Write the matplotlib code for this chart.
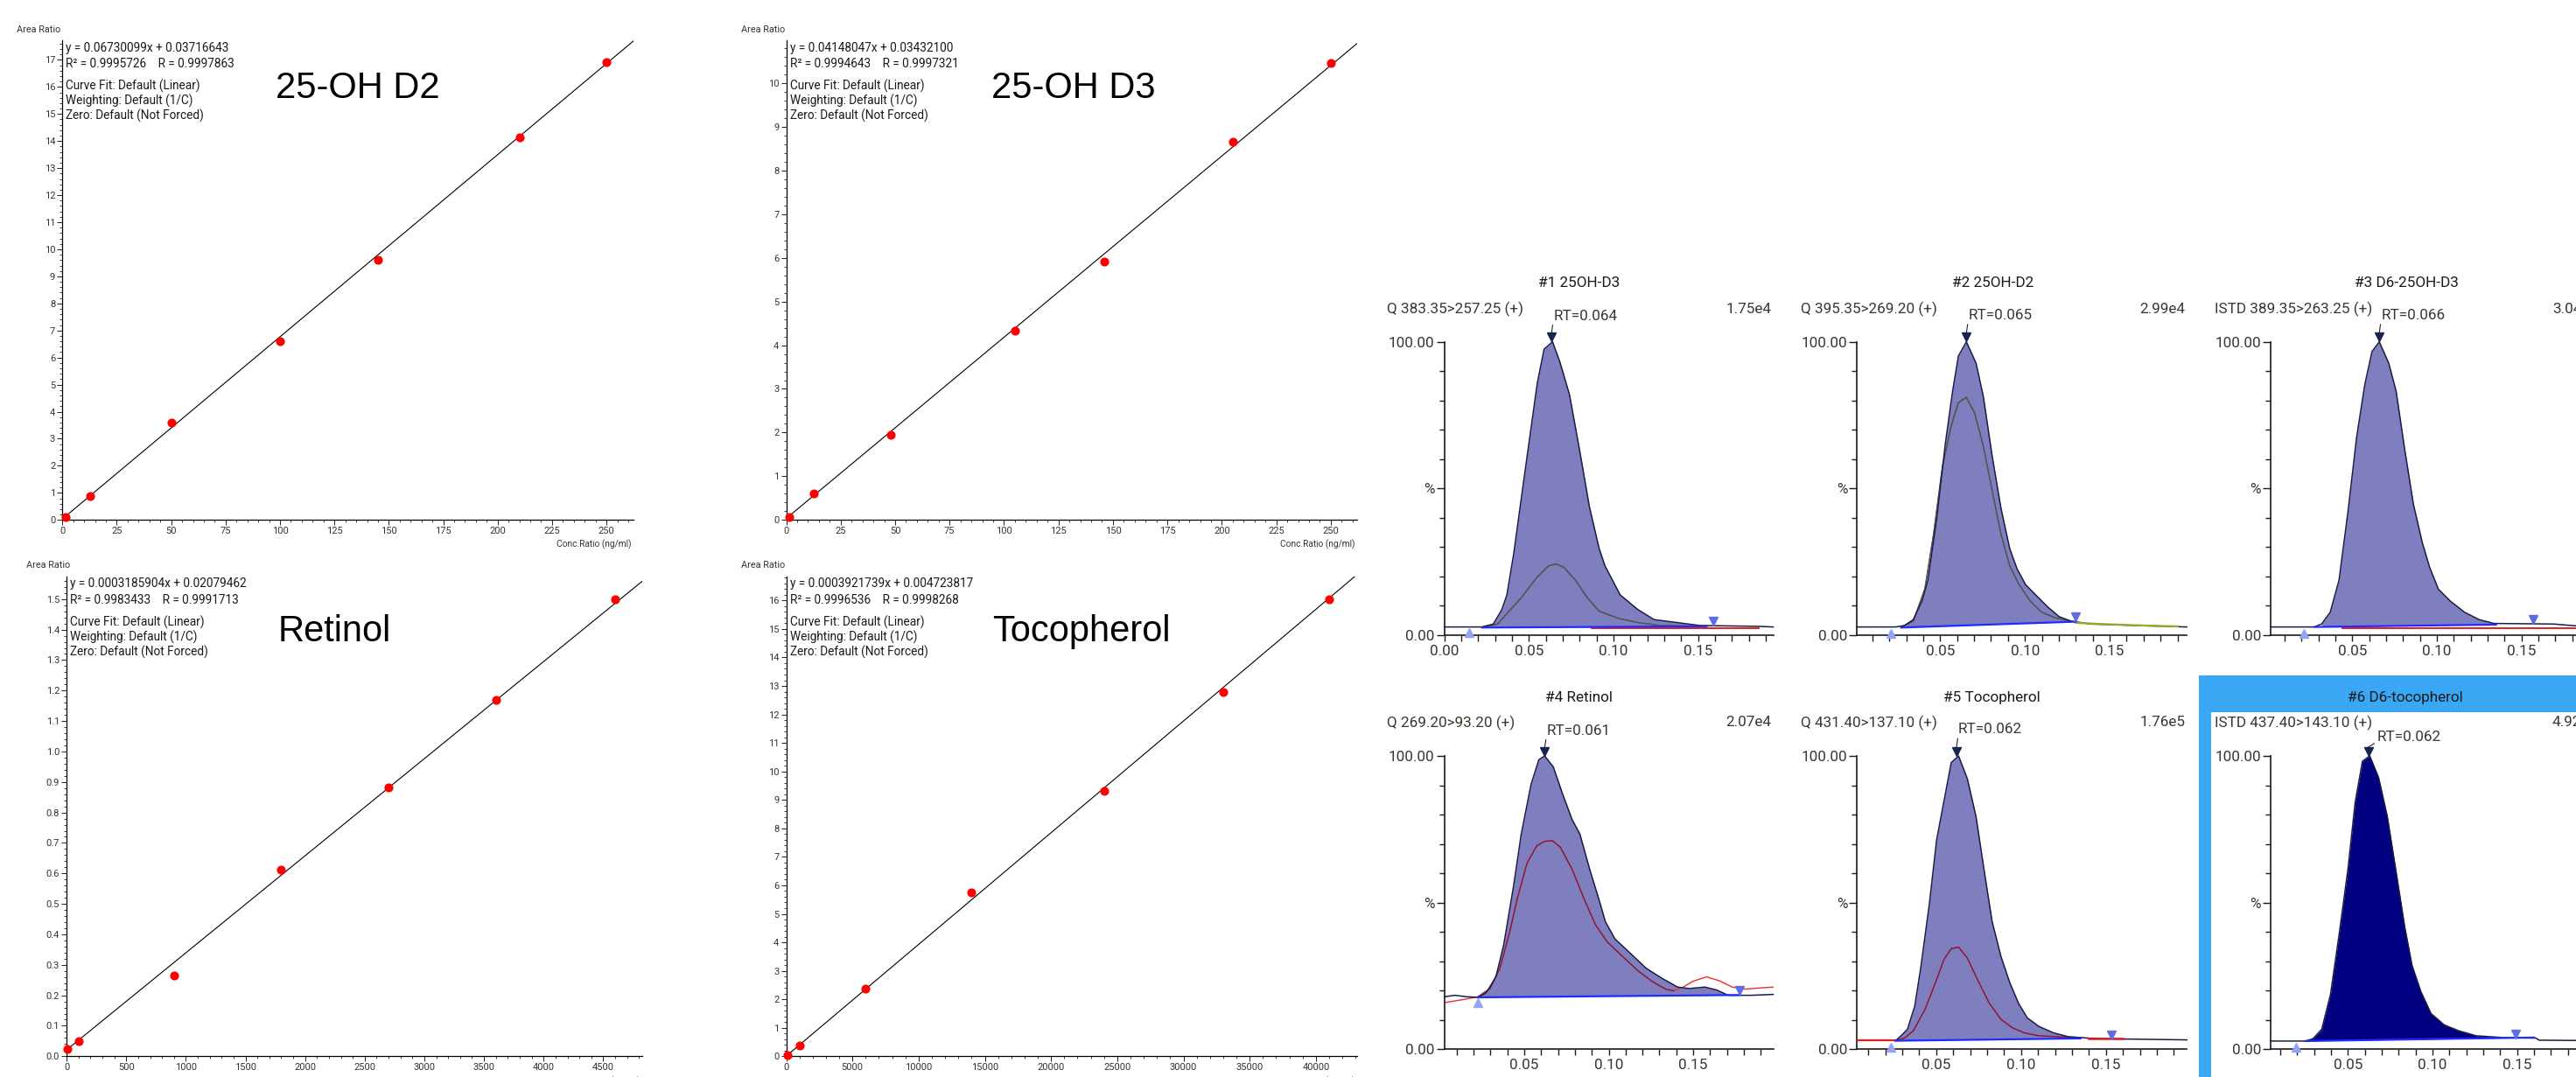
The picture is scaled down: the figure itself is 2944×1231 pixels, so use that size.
import numpy as np
import matplotlib
matplotlib.use("Agg")
import matplotlib.pyplot as plt
from matplotlib.ticker import MultipleLocator, FixedLocator, FormatStrFormatter
from matplotlib.patches import Rectangle

plt.rcParams['font.family'] = ['Roboto', 'DejaVu Sans']

W, H = 2944, 1231

# ---------------- calibration data ----------------
cal_names = ["25-OH D2", "25-OH D3", "Retinol", "Tocopherol"]
d2_conc = [1.5, 12.8, 50, 100, 145, 210, 250]
d2_ratio = [0.10, 0.88, 3.60, 6.62, 9.61, 14.13, 16.90]
d3_conc = [1.5, 12.8, 48, 105, 146, 205, 250]
d3_ratio = [0.07, 0.60, 1.94, 4.34, 5.92, 8.66, 10.45]
ret_conc = [10, 100, 900, 1800, 2700, 3600, 4600]
ret_ratio = [0.025, 0.051, 0.265, 0.611, 0.882, 1.170, 1.500]
toc_conc = [130, 1000, 6000, 14000, 24000, 33000, 41000]
toc_ratio = [0.05, 0.37, 2.36, 5.74, 9.30, 12.80, 16.05]
cal_conc = [d2_conc, d3_conc, ret_conc, toc_conc]
cal_ratio = [d2_ratio, d3_ratio, ret_ratio, toc_ratio]

cal_slope = [0.06730099, 0.04148047, 0.0003185904, 0.0003921739]
cal_intercept = [0.03716643, 0.03432100, 0.02079462, 0.004723817]
cal_eq = ["y = 0.06730099x + 0.03716643",
          "y = 0.04148047x + 0.03432100",
          "y = 0.0003185904x + 0.02079462",
          "y = 0.0003921739x + 0.004723817"]
cal_r = ["R\u00b2 = 0.9995726    R = 0.9997863",
         "R\u00b2 = 0.9994643    R = 0.9997321",
         "R\u00b2 = 0.9983433    R = 0.9991713",
         "R\u00b2 = 0.9996536    R = 0.9998268"]
cal_info = ["Curve Fit: Default (Linear)", "Weighting: Default (1/C)", "Zero: Default (Not Forced)"]

# ---------------- chromatogram data ----------------
chrom_titles = ["#1 25OH-D3", "#2 25OH-D2", "#3 D6-25OH-D3",
                "#4 Retinol", "#5 Tocopherol", "#6 D6-tocopherol"]
chrom_trans = ["Q 383.35>257.25 (+)", "Q 395.35>269.20 (+)", "ISTD 389.35>263.25 (+)",
               "Q 269.20>93.20 (+)", "Q 431.40>137.10 (+)", "ISTD 437.40>143.10 (+)"]
chrom_amp = ["1.75e4", "2.99e4", "3.04e4", "2.07e4", "1.76e5", "4.92e5"]
chrom_rt = [0.064, 0.065, 0.066, 0.061, 0.062, 0.062]

p1_t = [0.0, 0.0224, 0.029, 0.034, 0.037, 0.041, 0.048, 0.055, 0.059, 0.064, 0.0684, 0.074,
        0.080, 0.0857, 0.0915, 0.095, 0.104, 0.1145, 0.124, 0.1376, 0.151, 0.186, 0.1944]
p1_y = [2.8, 2.8, 3.8, 8.7, 13.7, 27.6, 57.0, 86.0, 97.5, 100.0, 93.0, 82.0,
        63.0, 44.0, 29.6, 23.6, 13.7, 8.7, 5.3, 4.3, 3.3, 3.0, 2.8]
p1_st = [0.0224, 0.0316, 0.036, 0.0454, 0.0546, 0.0615, 0.0661, 0.0707, 0.0776, 0.0846,
         0.0915, 0.103, 0.1145, 0.128, 0.151]
p1_sy = [2.8, 3.8, 6.7, 12.7, 19.6, 23.6, 24.3, 23.1, 18.7, 12.7, 8.2, 5.7, 4.3, 3.3, 3.0]

p2_t = [0.001, 0.0239, 0.029, 0.0342, 0.0394, 0.0428, 0.048, 0.0531, 0.0574, 0.0608, 0.0655,
        0.0712, 0.0755, 0.0806, 0.0858, 0.091, 0.0953, 0.1004, 0.1064, 0.1133, 0.1202, 0.1271,
        0.139, 0.165, 0.1955]
p2_y = [2.8, 2.8, 3.3, 5.3, 11.7, 18.7, 39.6, 65.4, 83.3, 95.2, 100.0,
        92.7, 81.3, 61.4, 43.5, 29.6, 22.7, 17.2, 13.7, 9.7, 6.3, 4.8,
        3.8, 3.3, 2.8]
p2_st = [0.0273, 0.0342, 0.041, 0.0462, 0.0514, 0.0565, 0.0608, 0.0655, 0.0703, 0.0755,
         0.0806, 0.0858, 0.091, 0.0961, 0.103, 0.1099, 0.1185, 0.127]
p2_sy = [2.8, 4.8, 15.7, 34.6, 57.5, 71.4, 79.3, 81.1, 75.8, 64.4,
         49.5, 34.6, 23.7, 17.7, 11.7, 7.8, 5.8, 4.8]

p3_t = [0.0018, 0.0276, 0.0319, 0.037, 0.0422, 0.0474, 0.0526, 0.0574, 0.0617, 0.066, 0.0716,
        0.0759, 0.081, 0.0862, 0.0914, 0.0957, 0.1009, 0.1078, 0.1164, 0.125, 0.1336, 0.169,
        0.1818, 0.1967]
p3_y = [2.8, 2.8, 3.8, 7.8, 18.7, 41.6, 67.4, 85.3, 96.7, 100.0, 92.7,
        83.3, 63.4, 44.5, 31.6, 23.2, 15.7, 11.7, 7.8, 5.3, 4.0, 3.8,
        3.2, 3.0]

p4_t = [0.0026, 0.0089, 0.0158, 0.0227, 0.0274, 0.0332, 0.0378, 0.0436, 0.0482, 0.054, 0.0586,
        0.0621, 0.0672, 0.0725, 0.0783, 0.0829, 0.0887, 0.0945, 0.098, 0.1037, 0.113, 0.1222,
        0.1315, 0.1408, 0.1477, 0.157, 0.1639, 0.1708, 0.1847, 0.1974]
p4_y = [17.9, 18.4, 17.9, 17.7, 19.2, 24.7, 35.6, 55.5, 73.4, 90.3, 98.7,
        100.0, 96.2, 87.3, 78.3, 73.4, 61.4, 50.5, 43.5, 37.6, 32.6, 27.6,
        24.2, 21.2, 20.7, 21.2, 20.2, 18.4, 18.4, 18.7]
p4_st = [0.0026, 0.0135, 0.0227, 0.0297, 0.0355, 0.0412, 0.0459, 0.0516, 0.0574, 0.0621,
         0.0667, 0.0713, 0.0783, 0.0852, 0.0921, 0.0991, 0.1083, 0.1176, 0.1268, 0.1338,
         0.1384, 0.1441, 0.15, 0.158, 0.1662, 0.1731, 0.1812, 0.1893, 0.1974]
p4_sy = [15.9, 16.9, 17.9, 20.7, 27.6, 39.6, 51.5, 63.4, 69.4, 70.9,
         71.1, 68.9, 61.4, 51.5, 42.5, 36.6, 31.6, 26.6, 22.7, 20.5,
         19.9, 21.2, 23.2, 24.7, 23.2, 21.2, 20.5, 20.9, 21.2]

p5_t = [0.0034, 0.0263, 0.0297, 0.0331, 0.0374, 0.0409, 0.046, 0.0503, 0.0555, 0.0589, 0.0632,
        0.0684, 0.0735, 0.0787, 0.083, 0.0882, 0.0934, 0.0985, 0.1037, 0.1105, 0.1191, 0.1277,
        0.1397, 0.1603, 0.1977]
p5_y = [3.0, 3.0, 4.8, 6.8, 14.7, 27.6, 49.5, 71.4, 87.3, 97.7, 100.0,
        92.2, 79.3, 59.4, 43.5, 31.6, 22.7, 15.7, 10.7, 7.8, 5.6, 4.3,
        3.8, 3.5, 3.2]
p5_st = [0.0034, 0.0263, 0.0314, 0.0366, 0.0435, 0.0503, 0.0546, 0.0589, 0.0632, 0.0684,
         0.0744, 0.0813, 0.0882, 0.095, 0.1019, 0.1105, 0.1208, 0.1345]
p5_sy = [3.0, 3.0, 3.8, 6.3, 13.7, 23.7, 30.6, 34.3, 34.8, 31.1,
         23.7, 15.7, 10.2, 7.3, 5.6, 4.6, 4.3, 3.8]

p6_t = [0.0043, 0.025, 0.0293, 0.0345, 0.0397, 0.0449, 0.05, 0.0543, 0.0586, 0.0629, 0.0681,
        0.0733, 0.0785, 0.0836, 0.0879, 0.0931, 0.0991, 0.1069, 0.1155, 0.1258, 0.1413, 0.1612,
        0.163, 0.1844, 0.1993]
p6_y = [2.8, 2.8, 3.6, 6.8, 18.7, 39.6, 61.4, 84.3, 98.2, 100.0, 92.7,
        79.3, 60.4, 41.6, 28.6, 19.7, 12.2, 8.3, 6.3, 4.6, 4.0, 3.8,
        3.1, 3.0, 3.0]

# integration: start, end, baseline at start, baseline at end
p_integ = [(0.0224, 0.155, 2.6, 3.0), (0.027, 0.13, 2.6, 4.6), (0.028, 0.135, 2.8, 3.6),
           (0.0227, 0.1777, 17.7, 18.5), (0.026, 0.135, 2.9, 3.7), (0.025, 0.16, 2.8, 4.0)]
# peak start / end markers (time, %)
p_mark_start = [(0.0147, 0.9), (0.021, 0.6), (0.0216, 0.6), (0.0223, 16.0), (0.0234, 0.6), (0.0193, 0.6)]
p_mark_end = [(0.159, 4.8), (0.130, 6.2), (0.157, 5.5), (0.1777, 20.0), (0.153, 5.0), (0.149, 5.3)]

# ---------------- figure ----------------
fig = plt.figure(figsize=(W / 100, H / 100), dpi=100)
fig.patch.set_facecolor('white')


def add_ax(x0, y0, x1, y1):
    return fig.add_axes([x0 / W, 1 - y1 / H, (x1 - x0) / W, (y1 - y0) / H])


def ptext(x, y, s, **kw):
    return fig.text(x / W, 1 - y / H, s, **kw)


# ---------- calibration curves ----------
cal_box = [(71.3, 45.5, 723.7, 594.3), (898.5, 45.5, 1551, 594.3),
           (76.1, 659, 734.4, 1207.3), (898.5, 659, 1551, 1207.3)]
cal_xmax = [262.3, 262.1, 4830, 43113]
cal_ymax = [17.74, 10.99, 1.574, 16.84]
cal_xmaj = [25, 25, 500, 5000]
cal_xmin = [5, 5, 100, 1000]
cal_ymaj = [1, 1, 0.1, 1]
cal_ymin = [0.2, 0.2, 0.02, 0.2]
cal_yfmt = ['%d', '%d', '%.1f', '%d']
eq_pos = [(75, 54.6), (903, 54.6), (80, 667.5), (903, 667.5)]
eq_off = [0, 18.2, 43.9, 60.9, 77.9]
title_pos = [(315, 111.5), (1132.6, 111.5), (317.5, 733), (1134, 733)]
arearatio_pos = [(69, 34.4), (897.6, 34.4), (80.5, 646.5), (897.6, 646.5)]
conc_pos = [(721, 622), (1548.6, 622), (731.7, 1236), (1548.6, 1236)]

for i in range(4):
    ax = add_ax(*cal_box[i])
    ax.set_facecolor('none')
    ax.set_xlim(0, cal_xmax[i])
    ax.set_ylim(0, cal_ymax[i])
    for s in ['top', 'right']:
        ax.spines[s].set_visible(False)
    for s in ['left', 'bottom']:
        ax.spines[s].set_linewidth(0.9)
        ax.spines[s].set_color('black')
    ax.xaxis.set_major_locator(MultipleLocator(cal_xmaj[i]))
    ax.xaxis.set_minor_locator(MultipleLocator(cal_xmin[i]))
    ax.yaxis.set_major_locator(MultipleLocator(cal_ymaj[i]))
    ax.yaxis.set_minor_locator(MultipleLocator(cal_ymin[i]))
    ax.yaxis.set_major_formatter(FormatStrFormatter(cal_yfmt[i]))
    ax.xaxis.set_major_formatter(FormatStrFormatter('%d'))
    ax.tick_params(which='major', length=4.3, width=0.7, pad=1.5, labelsize=8,
                   labelcolor='#333333', direction='out', color='#222222')
    ax.tick_params(which='minor', length=2.2, width=0.6, direction='out', color='#222222')
    xs = np.array([0, cal_xmax[i]])
    ax.plot(xs, cal_slope[i] * xs + cal_intercept[i], color='black', lw=0.8, zorder=2)
    ax.plot(cal_conc[i], cal_ratio[i], 'o', color='#ff0000', mec='#ff0000', ms=6.3,
            zorder=3, clip_on=False)
    x, y = eq_pos[i]
    lines = [cal_eq[i], cal_r[i]] + cal_info
    for k, s in enumerate(lines):
        ptext(x, y + eq_off[k], s, fontsize=9.8, color='#1a1a1a', ha='left', va='center')
    tx, ty = title_pos[i]
    ptext(tx, ty, cal_names[i], fontsize=30, family='Liberation Sans', color='black',
          ha='left', va='baseline')
    ax_, ay_ = arearatio_pos[i]
    ptext(ax_, ay_, "Area Ratio", fontsize=7.8, color='#333333', ha='right', va='center')
    cx, cy = conc_pos[i]
    ptext(cx, cy, "Conc.Ratio (ng/ml)", fontsize=7.3, color='#333333', ha='right', va='center')

# ---------- panel 6 highlight frame ----------
fig.add_artist(Rectangle((2513.3 / W, 0), 1.0, 1 - 771.7 / H, transform=fig.transFigure,
                         facecolor='#3aa7f5', edgecolor='none', zorder=-2))
fig.add_artist(Rectangle((2527.3 / W, 0), 1.0, 1 - 814 / H, transform=fig.transFigure,
                         facecolor='white', edgecolor='none', zorder=-1))

# ---------- chromatograms ----------
TXT = '#3a3630'
FILL = '#7f7fbf'
TRACE = '#1b1b45'

chrom_box = [(1650.6, 390.7, 2026.5, 726), (2122.3, 390.7, 2499.3, 726), (2595, 390.7, 2972, 726),
             (1650.6, 864, 2026.5, 1199.3), (2122.3, 864, 2499.3, 1199.3), (2595, 864, 2972, 1199.3)]
chrom_xlim = [(0.0, 0.1944), (0.001, 0.1955), (0.0018, 0.1967),
              (0.0026, 0.1974), (0.0034, 0.1977), (0.0043, 0.1993)]
title_c = [1804.6, 2277.5, 2750, 1805, 2276.7, 2749.3]
q_left = [1585.4, 2058, 2530.7, 1585.4, 2058.3, 2530.7]
amp_right = [2024.3, 2497.3, 2969, 2024.3, 2497.3, 2969]
row_title_y = [324, 324, 324, 797.3, 797.3, 797.3]
row_q_y = [353.3, 353.3, 353.3, 826, 826, 826]
rt_off = [(1.5, 14), (1.5, 14.5), (1.5, 14.5), (1.5, 13.5), (1.5, 14.5), (7, 8)]

mains = [(p1_t, p1_y), (p2_t, p2_y), (p3_t, p3_y), (p4_t, p4_y), (p5_t, p5_y), (p6_t, p6_y)]
secs = [(p1_st, p1_sy, '#555555', '#555555'), (p2_st, p2_sy, '#555555', '#555555'), None,
        (p4_st, p4_sy, '#e8302a', '#7a1f45'), (p5_st, p5_sy, '#e8302a', '#7a1f45'), None]

for i in range(6):
    ax = add_ax(*chrom_box[i])
    ax.set_facecolor('none')
    ax.set_xlim(*chrom_xlim[i])
    ax.set_ylim(0, 100)
    for s in ['top', 'right']:
        ax.spines[s].set_visible(False)
    for s in ['left', 'bottom']:
        ax.spines[s].set_linewidth(1.2)
        ax.spines[s].set_color('#1a1a1a')
    if i == 0:
        ax.set_xticks([0.0, 0.05, 0.10, 0.15])
        ax.set_xticklabels(['0.00', '0.05', '0.10', '0.15'])
    else:
        ax.set_xticks([0.05, 0.10, 0.15])
        ax.set_xticklabels(['0.05', '0.10', '0.15'])
    ax.xaxis.set_minor_locator(MultipleLocator(0.01))
    ax.set_yticks([0, 50, 100])
    ax.set_yticklabels(['0.00', '%', '100.00'])
    ax.yaxis.set_minor_locator(FixedLocator([10, 20, 30, 40, 60, 70, 80, 90]))
    ax.tick_params(axis='x', which='both', length=4.8, width=1.0, direction='out',
                   color='#1a1a1a', pad=3.0, labelsize=12.3, labelcolor=TXT)
    ax.tick_params(axis='y', which='major', length=6.5, width=1.0, direction='out',
                   color='#1a1a1a', pad=1.5, labelsize=12.3, labelcolor=TXT)
    ax.tick_params(axis='y', which='minor', length=4.3, width=1.0, direction='out', color='#1a1a1a')

    t, y = np.array(mains[i][0]), np.array(mains[i][1])
    s0, s1, b0, b1 = p_integ[i]
    base = b0 + (b1 - b0) * (t - s0) / (s1 - s0)
    mask = (t >= s0) & (t <= s1)
    fc = '#000080' if i == 5 else FILL
    ax.fill_between(t, y, base, where=mask, color=fc, lw=0, zorder=1)

    if secs[i] is not None:
        st, sy, c_out, c_in = secs[i]
        st, sy = np.array(st), np.array(sy)
        ax.plot(st, sy, color=c_out, lw=1.0, zorder=2)
        inn = (st >= s0) & (st <= 0.1384 if i == 3 else st <= s1)
        inn = (st >= s0) & (st <= (0.1384 if i == 3 else s1))
        ax.plot(st[inn], sy[inn], color=c_in, lw=1.0, zorder=2.1)

    ax.plot(t, y, color=TRACE, lw=1.1, zorder=3, clip_on=False)

    # integration baseline and extra segments
    ax.plot([s0, s1], [b0, b1], color='#1e2cff', lw=1.6, zorder=4)
    if i == 0:
        ax.plot([0.087, 0.186], [2.35, 2.35], color='#e02020', lw=1.4, zorder=3.5)
    if i == 1:
        ax.plot([0.13, 0.15, 0.17, 0.19], [4.2, 3.7, 3.3, 3.0], color='#9aaa2a', lw=1.6, zorder=3.5)
    if i == 2:
        ax.plot([0.044, 0.1967], [2.45, 2.45], color='#e02020', lw=1.4, zorder=3.5, clip_on=False)
    if i == 4:
        ax.plot([0.0034, 0.026], [3.0, 3.0], color='#e02020', lw=1.6, zorder=3.5)
        ax.plot([0.14, 0.16], [3.6, 3.6], color='#e02020', lw=1.8, zorder=3.5)

    # markers
    ax.plot(*p_mark_start[i], marker='^', color='#93a3f5', ms=6.5, zorder=6, clip_on=False)
    ax.plot(*p_mark_end[i], marker='v', color='#5e6ee0', ms=6.5, zorder=6, clip_on=False)
    apex_t = chrom_rt[i] if i not in (0, 1, 3) else [0.0634, 0.0655, 0, 0.0621][i]
    ax.plot(apex_t, 101.6, marker='v', color='#14244d', ms=6.5, zorder=6, clip_on=False)
    dx, dy = rt_off[i]
    ax.annotate("RT=%.3f" % chrom_rt[i], xy=(apex_t, 103.0), xytext=(dx, dy),
                textcoords='offset points', ha='left', va='center', fontsize=12.3, color=TXT,
                annotation_clip=False,
                arrowprops=dict(arrowstyle='-', color='#222222', lw=0.8, shrinkA=0, shrinkB=0,
                                relpos=(0.0, 0.15)))

    ptext(title_c[i], row_title_y[i], chrom_titles[i], fontsize=12.3, color='#1a1a1a',
          ha='center', va='center')
    ptext(q_left[i], row_q_y[i], chrom_trans[i], fontsize=12.3, color=TXT, ha='left', va='center')
    ptext(amp_right[i], row_q_y[i], chrom_amp[i], fontsize=12.3, color=TXT, ha='right', va='center')

fig.savefig("out.png", dpi=100, facecolor='white')
